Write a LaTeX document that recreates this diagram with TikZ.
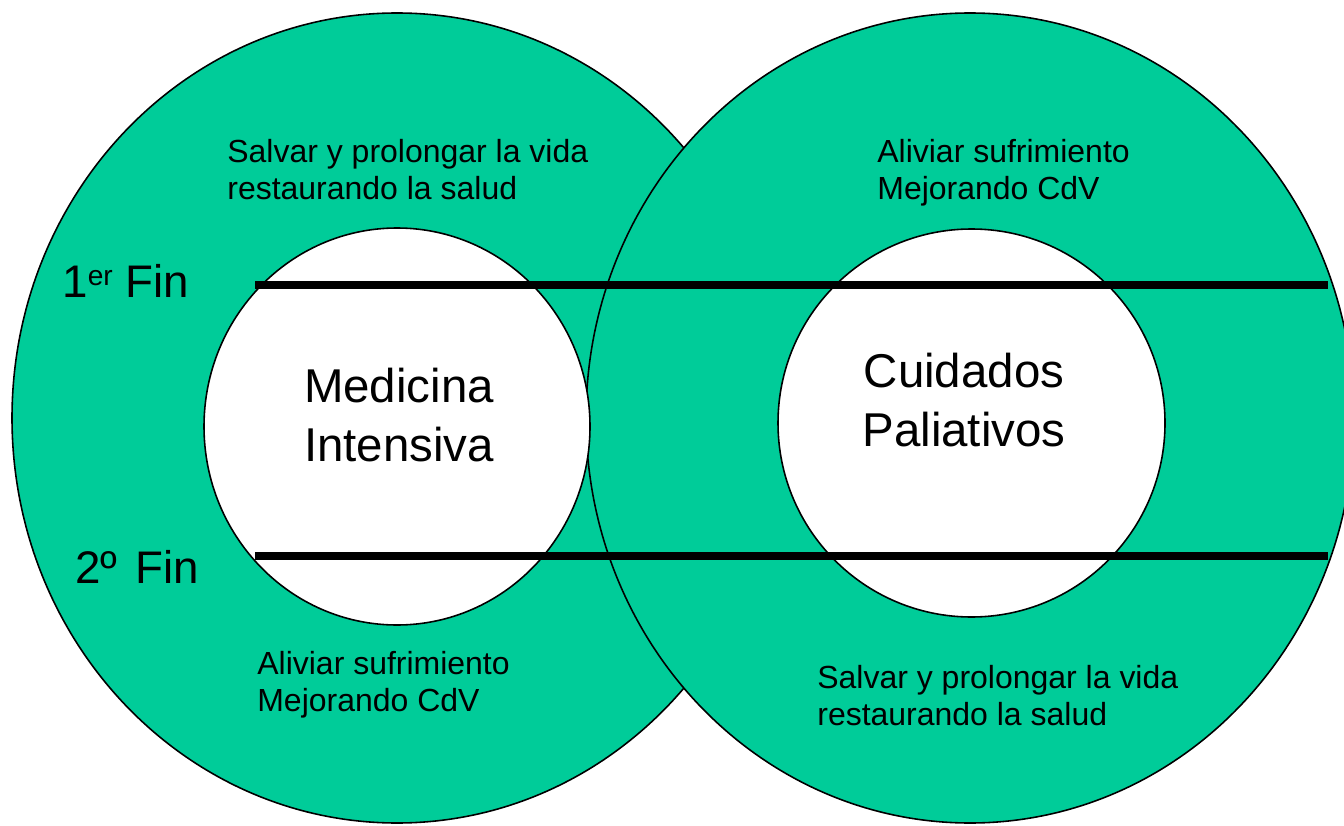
\documentclass[tikz,border=0pt]{standalone}
\usepackage{fontspec}
\setmainfont{Liberation Sans}
\definecolor{verde}{RGB}{0,204,153}

\begin{document}
\begin{tikzpicture}[
    anillo/.style={draw=black,line width=0.9pt,fill=verde},
    hueco/.style={draw=black,line width=0.9pt,fill=white},
    fin/.style={line width=4.2pt},
    chico/.style={align=left,anchor=north west,inner sep=0pt,font=\fontsize{18.2}{21}\selectfont},
    grande/.style={align=center,inner sep=0pt,font=\fontsize{27}{34}\selectfont},
    rotulo/.style={anchor=base west,inner sep=0pt,font=\fontsize{26}{30}\selectfont}]
      \useasboundingbox (0,0) rectangle (26.88,16.5);
      % anillos verdes
      \draw[anillo] (7.94,8.14) ellipse [x radius=7.7, y radius=8.1];
      \draw[anillo] (19.40,8.14) ellipse [x radius=7.68, y radius=8.1];
      % huecos blancos
      \draw[hueco] (7.94,7.97) ellipse [x radius=3.86, y radius=3.97];
      \draw[hueco] (19.43,8.04) ellipse [x radius=3.87, y radius=3.88];
      % lineas de los fines
      \coordinate (f1a) at (5.1,10.8);
      \coordinate (f1b) at (26.56,10.8);
      \coordinate (f2a) at (5.1,5.38);
      \coordinate (f2b) at (26.56,5.38);
      \draw[fin] (f1a) -- (f1b);
      \draw[fin] (f2a) -- (f2b);
      % textos
      \node[grande] (mi) at (7.98,8.2) {Medicina\\Intensiva};
      \node[grande] (cp) at (19.28,8.5) {Cuidados\\Paliativos};
      \node[chico] (salvarmi) at (4.54,13.72) {Salvar y prolongar la vida\\restaurando la salud};
      \node[chico] (aliviarcp) at (17.54,13.72) {Aliviar sufrimiento\\Mejorando CdV};
      \node[chico] (aliviarmi) at (5.14,3.48) {Aliviar sufrimiento\\Mejorando CdV};
      \node[chico] (salvarcp) at (16.34,3.2) {Salvar y prolongar la vida\\restaurando la salud};
      \node[rotulo] (fin1) at (1.24,10.56) {1{\fontsize{16}{18}\selectfont\raisebox{0.42em}{er}} Fin};
      \node[rotulo] (fin2) at (1.5,4.84) {2º\hspace{0.12em} Fin};
\end{tikzpicture}
\end{document}
